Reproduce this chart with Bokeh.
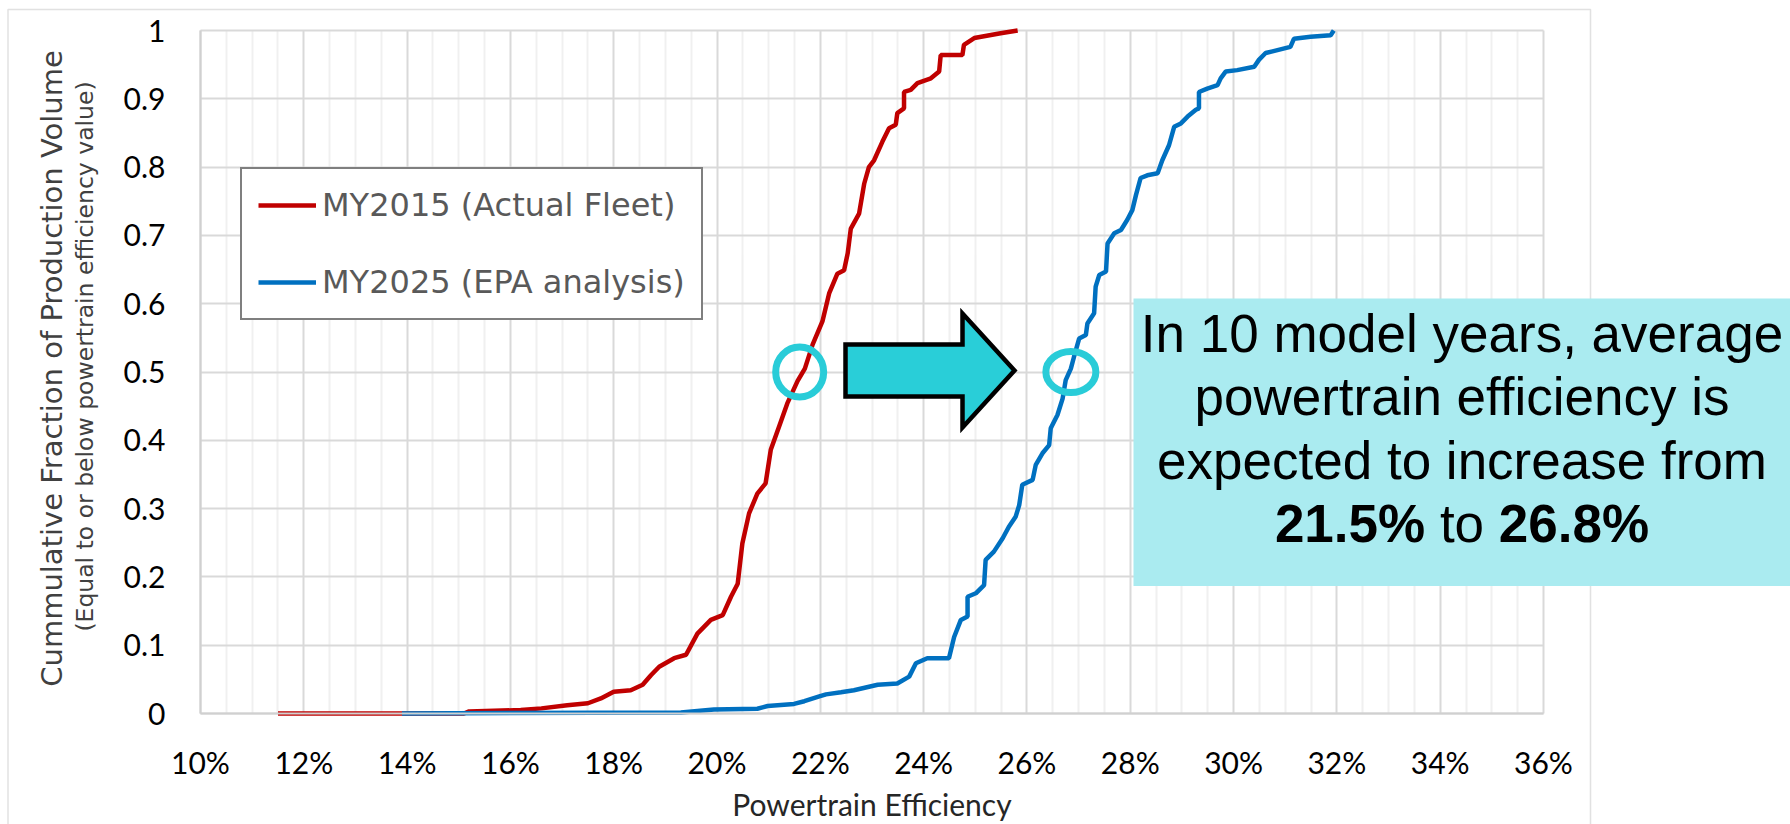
import math
from bokeh.plotting import figure
from bokeh.models import Range1d, FixedTicker, Legend, LegendItem, Label, BoxAnnotation
from bokeh.embed import file_html
from bokeh.resources import INLINE

# ---------------- data ----------------
series_names = ["MY2015 (Actual Fleet)", "MY2025 (EPA analysis)"]

my2015_eff = [11.5, 15.1, 15.2, 16.2, 16.6, 17.1, 17.5, 17.75, 18.0, 18.33, 18.56, 18.72,
              18.88, 19.17, 19.40, 19.62, 19.88, 20.11, 20.27, 20.40, 20.49, 20.62, 20.78,
              20.94, 21.04, 21.20, 21.36, 21.56, 21.70, 21.85, 22.04, 22.17, 22.33, 22.46,
              22.53, 22.59, 22.75, 22.85, 22.94, 23.04, 23.20, 23.33, 23.46, 23.49, 23.62,
              23.62, 23.75, 23.88, 24.14, 24.30, 24.33, 24.75, 24.78, 24.98, 25.49, 25.82]
my2015_cum = [0.0, 0.0, 0.003, 0.005, 0.0075, 0.012, 0.015, 0.022, 0.032, 0.034, 0.042, 0.056,
              0.0685, 0.081, 0.086, 0.117, 0.137, 0.144, 0.171, 0.19, 0.249, 0.293, 0.322,
              0.337, 0.386, 0.42, 0.454, 0.487, 0.505, 0.54, 0.574, 0.615, 0.644, 0.649,
              0.674, 0.710, 0.732, 0.776, 0.80, 0.81, 0.837, 0.857, 0.862, 0.879, 0.886,
              0.910, 0.913, 0.923, 0.930, 0.940, 0.964, 0.964, 0.979, 0.989, 0.996, 1.0]

my2025_eff = [13.9, 19.3, 19.94, 20.78, 20.98, 21.49, 21.69, 21.98, 22.11, 22.4, 22.65, 23.11,
              23.49, 23.72, 23.85, 24.07, 24.49, 24.59, 24.72, 24.85, 24.85, 25.01, 25.17,
              25.20, 25.36, 25.53, 25.65, 25.78, 25.85, 25.91, 26.11, 26.17, 26.30, 26.43,
              26.46, 26.59, 26.69, 26.75, 26.85, 26.91, 27.01, 27.14, 27.17, 27.30, 27.33,
              27.40, 27.53, 27.56, 27.69, 27.82, 27.94, 28.04, 28.11, 28.20, 28.33, 28.53,
              28.62, 28.75, 28.85, 28.98, 29.11, 29.27, 29.33, 29.33, 29.49, 29.69, 29.75,
              29.85, 30.07, 30.40, 30.49, 30.62, 31.10, 31.17, 31.49, 31.88, 31.94]
my2025_cum = [0.0, 0.0015, 0.006, 0.007, 0.011, 0.014, 0.018, 0.025, 0.028, 0.031, 0.034, 0.042,
              0.044, 0.054, 0.0735, 0.081, 0.081, 0.112, 0.137, 0.142, 0.171, 0.176, 0.188,
              0.225, 0.237, 0.2565, 0.2735, 0.288, 0.305, 0.335, 0.342, 0.364, 0.381, 0.393,
              0.4175, 0.437, 0.461, 0.488, 0.505, 0.522, 0.549, 0.554, 0.571, 0.586, 0.625,
              0.642, 0.647, 0.688, 0.703, 0.708, 0.7225, 0.737, 0.759, 0.784, 0.788, 0.791,
              0.810, 0.832, 0.859, 0.864, 0.874, 0.884, 0.886, 0.910, 0.915, 0.920, 0.930,
              0.940, 0.942, 0.947, 0.957, 0.967, 0.976, 0.988, 0.991, 0.993, 1.0]

x_ticks = list(range(10, 37, 2))
x_tick_labels = [f"{t}%" for t in x_ticks]
x_minor = [10 + 0.5 * i for i in range(53) if (10 + 0.5 * i) % 2 != 0]
y_ticks = [round(0.1 * i, 1) for i in range(11)]
y_tick_labels = ["0", "0.1", "0.2", "0.3", "0.4", "0.5", "0.6", "0.7", "0.8", "0.9", "1"]

median_marks_x = [21.6, 26.85]   # circled 50 % crossings
median_marks_y = [0.5, 0.5]

note_lines = ["In 10 model years, average", "powertrain efficiency is", "expected to increase from"]
note_from, note_mid, note_to = "21.5%", "to", "26.8%"

x_title = "Powertrain Efficiency"
y_title_1 = "Cummulative Fraction of Production Volume"
y_title_2 = "(Equal to or below powertrain efficiency value)"

# ---------------- layout ----------------
W, H = 1790, 824
PL, PT, PW, PH = 200, 30, 1343, 683      # plot-area box in canvas pixels
X0, X1, Y0, Y1 = 10, 36, 0, 1
PXU = PW / (X1 - X0)
PYU = PH / (Y1 - Y0)
KB = 0.33                                 # baseline correction (fraction of font size)

def dx(px):
    return X0 + (px - PL) / PXU

def dy(py):
    return Y0 + (PT + PH - py) / PYU

p = figure(width=W, height=H,
           x_range=Range1d(dx(0), dx(W)), y_range=Range1d(dy(H), dy(0)),
           output_backend="svg", toolbar_location=None,
           min_border=0, min_border_left=0, min_border_right=0,
           min_border_top=0, min_border_bottom=0)
p.background_fill_color = "white"
p.border_fill_color = "white"
p.outline_line_color = None

# axes pinned to the plot-area edges
p.xaxis.fixed_location = Y0
p.yaxis.fixed_location = X0
p.xaxis.bounds = (X0, X1)
p.yaxis.bounds = (Y0, Y1)
p.xaxis.ticker = FixedTicker(ticks=x_ticks)
p.xaxis.major_label_overrides = {t: l for t, l in zip(x_ticks, x_tick_labels)}
p.yaxis.ticker = FixedTicker(ticks=y_ticks)
p.yaxis.major_label_overrides = {t: l for t, l in zip(y_ticks, y_tick_labels)}
for ax in (p.xaxis, p.yaxis):
    ax.major_label_text_font = "Lato"
    ax.major_label_text_font_size = "30px"
    ax.major_label_text_color = "#000000"
    ax.major_tick_line_color = None
    ax.minor_tick_line_color = None
    ax.major_tick_out = 0
    ax.major_tick_in = 0
    ax.minor_tick_out = 0
    ax.minor_tick_in = 0
    ax.axis_line_color = "#D0D0D0"
    ax.axis_line_width = 2
p.xaxis.major_label_standoff = 30
p.yaxis.major_label_standoff = 35

# grids limited to the plot area
grid_ok = True
try:
    p.xgrid.bounds = (X0 - 0.001, X1 + 0.001)
    p.ygrid.bounds = (Y0 - 0.0001, Y1 + 0.0001)
    p.xgrid.cross_bounds = (Y0, Y1)
    p.ygrid.cross_bounds = (X0, X1)
except AttributeError:
    grid_ok = False

if grid_ok:
    p.xgrid.ticker = FixedTicker(ticks=x_ticks, minor_ticks=x_minor)
    p.xgrid.grid_line_color = "#D9D9D9"
    p.xgrid.grid_line_width = 2
    p.xgrid.minor_grid_line_color = "#F0F0F0"
    p.xgrid.minor_grid_line_width = 2
    p.ygrid.ticker = FixedTicker(ticks=y_ticks)
    p.ygrid.grid_line_color = "#D9D9D9"
    p.ygrid.grid_line_width = 2
else:
    p.xgrid.visible = False
    p.ygrid.visible = False
    p.segment(x0=x_minor, y0=[Y0] * len(x_minor), x1=x_minor, y1=[Y1] * len(x_minor),
              line_color="#F0F0F0", line_width=2, level="underlay")
    p.segment(x0=x_ticks, y0=[Y0] * len(x_ticks), x1=x_ticks, y1=[Y1] * len(x_ticks),
              line_color="#D9D9D9", line_width=2, level="underlay")
    p.segment(x0=[X0] * len(y_ticks), y0=y_ticks, x1=[X1] * len(y_ticks), y1=y_ticks,
              line_color="#D9D9D9", line_width=2, level="underlay")

# slide frame
p.add_layout(BoxAnnotation(left=dx(7.5), right=dx(1590), top=dy(9), bottom=dy(2000),
                           fill_color=None, line_color="#9A9A9A", line_width=1.5,
                           level="underlay"))

# series
r1 = p.line(my2015_eff, my2015_cum, line_color="#C00000", line_width=4.5)
r2 = p.line(my2025_eff, my2025_cum, line_color="#0070C0", line_width=4.5)

legend = Legend(items=[LegendItem(label=series_names[0], renderers=[r1]),
                       LegendItem(label=series_names[1], renderers=[r2])],
                location=(240, H - 320), margin=0, padding=16, spacing=37,
                glyph_width=58, glyph_height=40, label_height=40, label_standoff=6,
                border_line_color="black", border_line_width=2.5,
                background_fill_color="white", background_fill_alpha=1,
                label_text_font="DejaVu Sans", label_text_font_size="32px",
                label_text_color="#595959")
p.add_layout(legend)

# block arrow
ax_l, ax_m, ax_t = dx(845), dx(962), dx(1014)
ay_bt, ay_bb, ay_ht, ay_hb, ay_c = dy(344), dy(396), dy(313), dy(427), dy(370)
p.patch([ax_l, ax_l, ax_m, ax_m, ax_t, ax_m, ax_m],
        [ay_bb, ay_bt, ay_bt, ay_ht, ay_c, ay_hb, ay_bb],
        fill_color="#29CED8", line_color="black", line_width=4.5, line_join="miter")

# circles around the medians
p.ellipse(x=median_marks_x, y=median_marks_y,
          width=[48 / PXU, 50 / PXU], height=[50 / PYU, 41 / PYU],
          fill_color=None, line_color="#29CCD8", line_width=7)

# note box
p.add_layout(BoxAnnotation(left=dx(1133), right=dx(W + 20), top=dy(298), bottom=dy(585.5),
                           fill_color="#AAEBF0", fill_alpha=1, line_color=None))
em = 53
cx = 1461.5
shift = KB * em
for i, t in enumerate(note_lines):
    p.add_layout(Label(x=dx(cx), y=dy(350 + 63.6 * i - shift), text=t, text_align="center",
                       text_baseline="alphabetic", text_font="Liberation Sans",
                       text_font_size=f"{em}px", text_color="black"))
base4 = dy(350 + 63.6 * 3 - shift)
half_gap = 1.39 * em / 2
p.add_layout(Label(x=dx(cx - half_gap), y=base4, text=note_from, text_align="right",
                   text_baseline="alphabetic", text_font="Liberation Sans",
                   text_font_style="bold", text_font_size=f"{em}px", text_color="black"))
p.add_layout(Label(x=dx(cx), y=base4, text=note_mid, text_align="center",
                   text_baseline="alphabetic", text_font="Liberation Sans",
                   text_font_size=f"{em}px", text_color="black"))
p.add_layout(Label(x=dx(cx + half_gap), y=base4, text=note_to, text_align="left",
                   text_baseline="alphabetic", text_font="Liberation Sans",
                   text_font_style="bold", text_font_size=f"{em}px", text_color="black"))

# axis titles
p.add_layout(Label(x=(X0 + X1) / 2, y=dy(813 - KB * 30), text=x_title, text_align="center",
                   text_baseline="alphabetic", text_font="Lato", text_font_size="30px",
                   text_color="#262626"))
p.add_layout(Label(x=dx(51), y=dy(368), text=y_title_1, angle=math.pi / 2,
                   text_align="center", text_baseline="alphabetic",
                   text_font="DejaVu Sans", text_font_size="29px", text_color="#404040"))
p.add_layout(Label(x=dx(84), y=dy(356), text=y_title_2, angle=math.pi / 2,
                   text_align="center", text_baseline="alphabetic",
                   text_font="DejaVu Sans", text_font_size="23.5px", text_color="#404040"))

open("out.html", "w").write(file_html(p, INLINE))
